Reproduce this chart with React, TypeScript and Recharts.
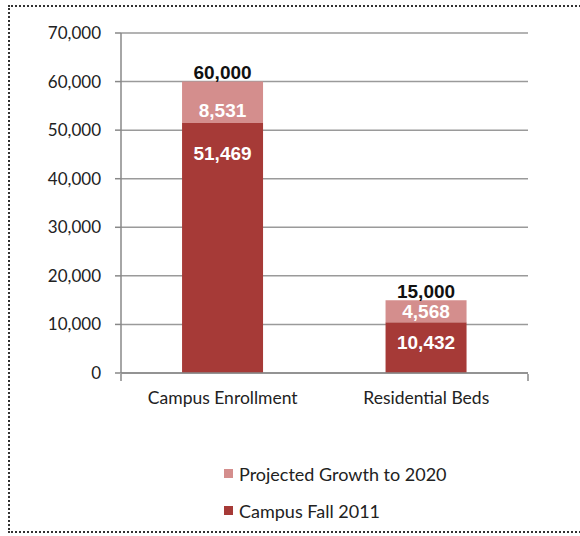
import React from 'react';
import { BarChart, Bar, XAxis, YAxis, CartesianGrid, Legend, LabelList } from 'recharts';

const categories = ['Campus Enrollment', 'Residential Beds'];
const fall2011 = [51469, 10432];
const projected = [8531, 4568];
const totals = [60000, 15000];
const yTicks = [0, 10000, 20000, 30000, 40000, 50000, 60000, 70000];
const edgeTicks = [0, 1, 2];

const DARK = '#a63a37';
const LIGHT = '#d48e8d';
const AXIS_FONT = 'Lato, "Open Sans", sans-serif';
const LABEL_FONT = '"Liberation Sans", Arial, sans-serif';

const data = categories.map((name, i) => ({
  name,
  fall: fall2011[i],
  growth: projected[i],
  total: totals[i],
}));

const fmt = (v: number) => v.toLocaleString('en-US');

const BottomLabel = (props: any) => {
  const { x, y, width, height, value } = props;
  const cy = y + Math.min(height / 2 - 5, 30);
  return (
    <text x={x + width / 2} y={cy} fill="#fff" fontSize={19} fontWeight="bold" fontFamily={LABEL_FONT}
      textAnchor="middle" dominantBaseline="central">
      {fmt(value)}
    </text>
  );
};

const TopLabel = (props: any) => {
  const { x, y, width, height, value } = props;
  const cy = y + Math.max(height / 2, height - 13);
  return (
    <text x={x + width / 2} y={cy} fill="#fff" fontSize={19} fontWeight="bold" fontFamily={LABEL_FONT}
      textAnchor="middle" dominantBaseline="central">
      {fmt(value)}
    </text>
  );
};

const TotalLabel = (props: any) => {
  const { x, y, width, index } = props;
  return (
    <text x={x + width / 2} y={y - 9} fill="#111" fontSize={19} fontWeight="bold" fontFamily={LABEL_FONT}
      textAnchor="middle" dominantBaseline="central">
      {fmt(totals[index])}
    </text>
  );
};

const LegendBox = () => {
  const items = [
    { label: 'Projected Growth to 2020', color: LIGHT },
    { label: 'Campus Fall 2011', color: DARK },
  ];
  return (
    <div style={{ fontFamily: AXIS_FONT, fontSize: 18, color: '#222' }}>
      {items.map((it) => (
        <div key={it.label} style={{ display: 'flex', alignItems: 'center', height: 37 }}>
          <span style={{ display: 'inline-block', width: 9, height: 9, background: it.color, marginRight: 6 }} />
          {it.label}
        </div>
      ))}
    </div>
  );
};

export default function App() {
  return (
    <div style={{ position: 'absolute', left: 0, top: 0, width: 580, height: 536, background: '#fff', overflow: 'hidden' }}>
      <div style={{ position: 'absolute', left: 8, top: 5, width: 620, height: 528, border: '2px dotted #333', boxSizing: 'border-box' }} />
      <div style={{ position: 'absolute', left: 0, top: 0 }}>
        <BarChart width={580} height={536} data={data} margin={{ top: 33, right: 52, left: 0, bottom: 132 }}
          barCategoryGap="30%">
          <CartesianGrid vertical={false} stroke="#9a9a9a" strokeWidth={1.5} />
          <XAxis dataKey="name" height={1} axisLine={{ stroke: '#888', strokeWidth: 1.5 }} tickLine={false}
            tickMargin={13} interval={0} tick={{ fontSize: 17.5, fill: '#222', fontFamily: AXIS_FONT }} />
          <XAxis xAxisId="edges" type="number" domain={[0, 2]} ticks={edgeTicks} height={30} allowDataOverflow
            interval={0} axisLine={false} tickLine={{ stroke: '#888', strokeWidth: 1.5 }} tickSize={7}
            tick={() => <g />} />
          <YAxis width={121} domain={[0, 70000]} ticks={yTicks} tickFormatter={fmt}
            axisLine={{ stroke: '#888', strokeWidth: 1.5 }} tickLine={{ stroke: '#888', strokeWidth: 1.5 }}
            tickSize={6} tickMargin={14} tick={{ fontSize: 17, fill: '#222', fontFamily: AXIS_FONT }} />
          <Legend layout="vertical" verticalAlign="middle" align="center" content={<LegendBox />}
            wrapperStyle={{ top: 455, left: 224, width: 300 }} />
          <Bar dataKey="fall" stackId="a" fill={DARK} isAnimationActive={false}>
            <LabelList dataKey="fall" content={<BottomLabel />} />
          </Bar>
          <Bar dataKey="growth" stackId="a" fill={LIGHT} isAnimationActive={false}>
            <LabelList dataKey="growth" content={<TopLabel />} />
            <LabelList dataKey="total" content={<TotalLabel />} />
          </Bar>
        </BarChart>
      </div>
    </div>
  );
}
